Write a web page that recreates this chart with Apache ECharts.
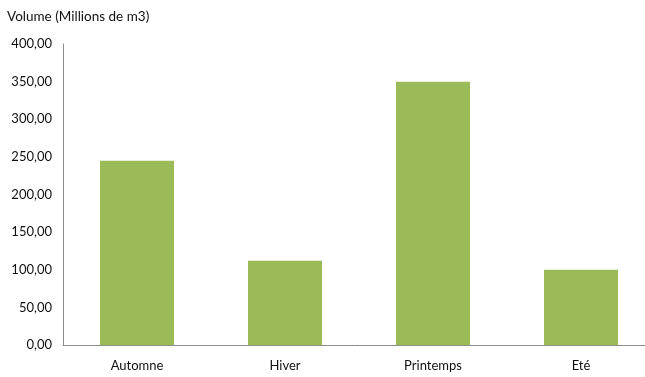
<!DOCTYPE html>
<html>
<head>
<meta charset="utf-8">
<script src="https://cdn.jsdelivr.net/npm/echarts@6/dist/echarts.min.js"></script>
<style>
  html, body { margin: 0; padding: 0; background: #fff; }
  #chart { width: 645px; height: 377px; }
</style>
</head>
<body>
<div id="chart"></div>
<script>
// Seasonal volumes (millions of m3)
const seasons = ['Automne', 'Hiver', 'Printemps', 'Eté'];
const volumes = [245, 112, 350, 100];
const yTitle = 'Volume (Millions de m3)';

const FONT = 'Lato, "Liberation Sans", sans-serif';

const chart = echarts.init(document.getElementById('chart'));
chart.setOption({
  animation: false,
  title: {
    text: yTitle,
    left: 2,
    top: 5,
    textStyle: { fontFamily: FONT, fontSize: 13.5, fontWeight: 'normal', color: '#111' }
  },
  // the plot area runs a little past the right edge of the canvas
  grid: { left: 63, width: 592, top: 44, bottom: 32, outerBoundsMode: 'none', containLabel: false },
  xAxis: {
    type: 'category',
    data: seasons,
    axisLine: { lineStyle: { color: '#8c8c8c', width: 1 } },
    axisTick: { show: false },
    axisLabel: { fontFamily: FONT, fontSize: 13, color: '#111', margin: 14 }
  },
  yAxis: {
    type: 'value',
    min: 0,
    max: 400,
    interval: 50,
    axisLine: { show: true, lineStyle: { color: '#8c8c8c', width: 1 } },
    axisTick: { show: false },
    splitLine: { show: false },
    axisLabel: {
      fontFamily: FONT,
      fontSize: 13,
      color: '#111',
      margin: 11,
      formatter: v => v.toFixed(2).replace('.', ',')
    }
  },
  series: [{
    type: 'bar',
    data: volumes,
    barWidth: '50%',
    itemStyle: { color: '#9BBB59' }
  }]
});
</script>
</body>
</html>
